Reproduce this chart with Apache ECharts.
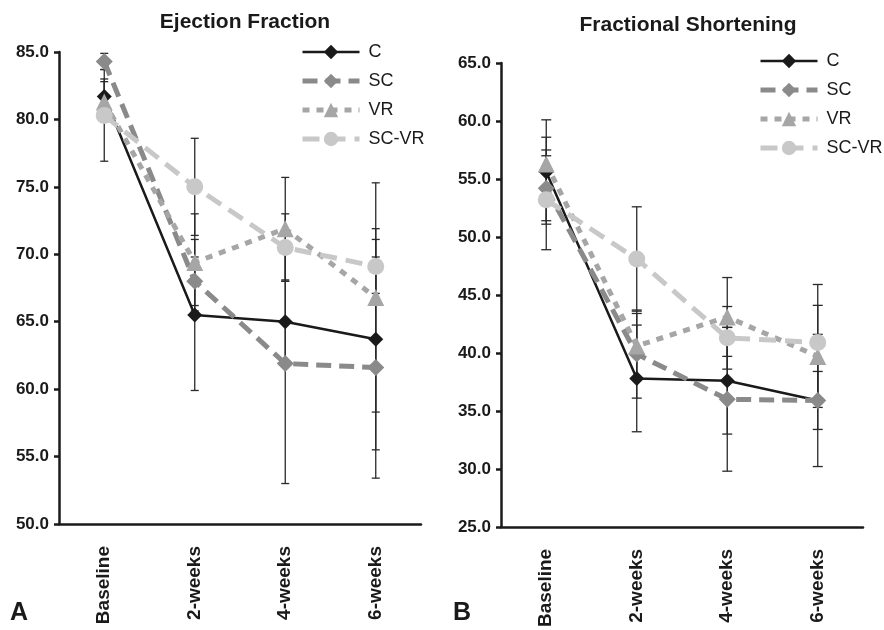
<!DOCTYPE html>
<html>
<head>
<meta charset="utf-8">
<script src="https://cdn.jsdelivr.net/npm/echarts@6/dist/echarts.min.js"></script>
<style>
  html, body { margin: 0; padding: 0; background: #fff; }
  #main { width: 884px; height: 630px; }
</style>
</head>
<body>
<div id="main"></div>
<script>
// 横轴分组
const categories = ['Baseline', '2-weeks', '4-weeks', '6-weeks']
const groups = ['C', 'SC', 'VR', 'SC-VR']

// A: Ejection Fraction 均值
const efC = [81.7, 65.5, 65.0, 63.7]
const efSC = [84.3, 68.0, 61.9, 61.6]
const efVR = [81.3, 69.4, 71.9, 66.8]
const efSCVR = [80.3, 75.0, 70.5, 69.1]
// A: 误差 (±)
const efErrC = [1.3, 5.6, 3.0, 8.2]
const efErrSC = [0.6, 1.8, 8.9, 8.2]
const efErrVR = [1.5, 3.6, 3.8, 8.5]
const efErrSCVR = [3.4, 3.6, 2.5, 2.0]

// B: Fractional Shortening 均值
const fsC = [55.6, 37.8, 37.6, 35.9]
const fsSC = [54.2, 39.9, 36.0, 35.9]
const fsVR = [56.3, 40.6, 43.1, 39.7]
const fsSCVR = [53.2, 48.1, 41.3, 40.9]
// B: 误差 (±)
const fsErrC = [4.5, 4.6, 4.6, 2.5]
const fsErrSC = [2.8, 3.8, 6.2, 5.7]
const fsErrVR = [2.3, 2.8, 3.4, 4.4]
const fsErrSCVR = [4.3, 4.5, 2.7, 5.0]

// 线型
const styles = {
  'C': { color: '#1a1a1a', width: 2.5, type: 'solid', symbol: 'diamond', size: 15 },
  'SC': { color: '#8a8a8a', width: 5, type: [15, 8], symbol: 'diamond', size: 17 },
  'VR': { color: '#a6a6a6', width: 5, type: [7, 7], symbol: 'triangle', size: 17 },
  'SC-VR': { color: '#c8c8c8', width: 5, type: [17, 9], symbol: 'circle', size: 17 }
}

const font = 'Liberation Sans, Arial, sans-serif'

const lineSeries = (name, data, idx) => {
  const s = styles[name]
  return {
    name,
    type: 'line',
    xAxisIndex: idx,
    yAxisIndex: idx,
    data,
    symbol: s.symbol,
    symbolSize: s.size,
    lineStyle: { color: s.color, width: s.width, type: s.type },
    itemStyle: { color: s.color },
    z: 3
  }
}

// 误差线
const errorSeries = (means, errs, idx, cap) => {
  const data = []
  means.forEach((m, g) => {
    m.forEach((v, i) => {
      data.push([i, v - errs[g][i], v + errs[g][i]])
    })
  })
  return {
    type: 'custom',
    xAxisIndex: idx,
    yAxisIndex: idx,
    data,
    z: 2,
    silent: true,
    renderItem: (params, api) => {
      const lo = api.coord([api.value(0), api.value(1)])
      const hi = api.coord([api.value(0), api.value(2)])
      const style = { stroke: '#2a2a2a', lineWidth: 1.3 }
      return {
        type: 'group',
        children: [
          { type: 'line', shape: { x1: lo[0], y1: lo[1], x2: hi[0], y2: hi[1] }, style },
          { type: 'line', shape: { x1: lo[0] - cap, y1: lo[1], x2: lo[0] + cap, y2: lo[1] }, style },
          { type: 'line', shape: { x1: hi[0] - cap, y1: hi[1], x2: hi[0] + cap, y2: hi[1] }, style }
        ]
      }
    },
    encode: { x: 0, y: [1, 2] }
  }
}

const xAxis = (idx) => ({
  type: 'category',
  gridIndex: idx,
  data: categories,
  boundaryGap: true,
  axisLine: { lineStyle: { color: '#1a1a1a', width: 2.5 } },
  axisTick: { length: 6, lineStyle: { color: '#1a1a1a', width: 2.5 } },
  axisLabel: {
    rotate: 90,
    margin: 22,
    color: '#1a1a1a',
    fontSize: 19,
    fontWeight: 'bold',
    fontFamily: font
  }
})

const yAxis = (idx, min, max) => ({
  type: 'value',
  gridIndex: idx,
  min,
  max,
  interval: 5,
  splitLine: { show: false },
  axisLine: { show: true, lineStyle: { color: '#1a1a1a', width: 2.5 } },
  axisTick: { show: true, length: 5, lineStyle: { color: '#1a1a1a', width: 2.5 } },
  axisLabel: {
    margin: 10,
    color: '#1a1a1a',
    fontSize: 17,
    fontWeight: 'bold',
    fontFamily: font,
    formatter: v => v.toFixed(1)
  }
})

const legend = (left, top) => ({
  left,
  top,
  padding: 0,
  orient: 'vertical',
  data: groups,
  itemWidth: 57,
  itemHeight: 18,
  itemGap: 11,
  lineStyle: { width: 'inherit' },
  textStyle: { color: '#1a1a1a', fontSize: 18, fontFamily: font, padding: [0, 0, 0, 4] }
})

const option = {
  animation: false,
  backgroundColor: '#fff',
  title: [
    { text: 'Ejection Fraction', left: 240, top: 7, textAlign: 'center',
      textStyle: { fontSize: 21, fontWeight: 'bold', color: '#1a1a1a', fontFamily: font } },
    { text: 'Fractional Shortening', left: 683, top: 10, textAlign: 'center',
      textStyle: { fontSize: 21, fontWeight: 'bold', color: '#1a1a1a', fontFamily: font } }
  ],
  legend: [legend(300, 43), legend(758, 52)],
  grid: [
    { left: 59, top: 52, width: 362, height: 472 },
    { left: 501, top: 63, width: 362, height: 470 }
  ],
  xAxis: [xAxis(0), xAxis(1)],
  yAxis: [yAxis(0, 50, 85), yAxis(1, 25, 65)],
  graphic: [
    { type: 'text', left: 10, top: 601, style: { text: 'A', fontSize: 25, fontWeight: 'bold', fill: '#1a1a1a', fontFamily: font } },
    { type: 'text', left: 453, top: 601, style: { text: 'B', fontSize: 25, fontWeight: 'bold', fill: '#1a1a1a', fontFamily: font } }
  ],
  series: [
    errorSeries([efC, efSC, efVR, efSCVR], [efErrC, efErrSC, efErrVR, efErrSCVR], 0, 4),
    errorSeries([fsC, fsSC, fsVR, fsSCVR], [fsErrC, fsErrSC, fsErrVR, fsErrSCVR], 1, 5),
    lineSeries('C', efC, 0),
    lineSeries('SC', efSC, 0),
    lineSeries('VR', efVR, 0),
    lineSeries('SC-VR', efSCVR, 0),
    lineSeries('C', fsC, 1),
    lineSeries('SC', fsSC, 1),
    lineSeries('VR', fsVR, 1),
    lineSeries('SC-VR', fsSCVR, 1)
  ]
}

const chart = echarts.init(document.getElementById('main'), null, { renderer: 'canvas' })
chart.setOption(option)
</script>
</body>
</html>
